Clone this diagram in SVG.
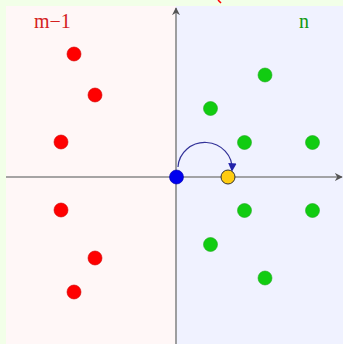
<svg xmlns="http://www.w3.org/2000/svg" width="343" height="344" viewBox="0 0 343 344">
<style>
.red{fill:#ff0000;stroke:#cc0000;stroke-width:0.6}
.green{fill:#11cc11;stroke:#22aa22;stroke-width:0.6}
.axis{stroke:#888888;stroke-width:1.6;fill:none}
.lbl{font-family:"Liberation Serif","DejaVu Serif",serif;font-size:20px}
</style>
<defs>
<marker id="ax" viewBox="0 0 10 10" refX="9" refY="5" markerWidth="5" markerHeight="5" orient="auto" markerUnits="strokeWidth">
<path d="M0,0 L10,5 L0,10 L3,5 Z" fill="#555555"/>
</marker>
<marker id="arc" viewBox="0 0 10 10" refX="8" refY="5" markerWidth="7" markerHeight="7" orient="auto" markerUnits="strokeWidth">
<path d="M0,0 L10,5 L0,10 Z" fill="#2222aa"/>
</marker>
</defs>
<rect x="0" y="0" width="343" height="344" fill="#f2ffe8"/>
<rect x="6" y="6" width="170" height="338" fill="#fff7f7"/>
<rect x="176" y="6" width="167" height="338" fill="#f0f2ff"/>
<path d="M218,0 L221,3" stroke="#ff0000" stroke-width="1.5"/>
<g id="connectors">
<line class="axis" x1="6" y1="177" x2="342" y2="177" marker-end="url(#ax)"/>
<line class="axis" x1="176" y1="344" x2="176" y2="8" marker-end="url(#ax)"/>
<path d="M178,167 A27,26 0 0 1 232,170" fill="none" stroke="#333399" stroke-width="1.2" marker-end="url(#arc)"/>
</g>
<g id="label-m1"><text class="lbl" x="34" y="28" fill="#d42020">m−1</text></g>
<g id="label-n"><text class="lbl" x="299" y="28" fill="#119911">n</text></g>
<g id="red-points">
<circle class="red" cx="74" cy="54" r="7"/>
<circle class="red" cx="95" cy="95" r="7"/>
<circle class="red" cx="61" cy="142" r="7"/>
<circle class="red" cx="61" cy="210" r="7"/>
<circle class="red" cx="95" cy="258" r="7"/>
<circle class="red" cx="74" cy="292" r="7"/>
</g>
<g id="green-points">
<circle class="green" cx="265" cy="75" r="7"/>
<circle class="green" cx="210.5" cy="108.5" r="7"/>
<circle class="green" cx="244.5" cy="142.5" r="7"/>
<circle class="green" cx="312.5" cy="142.5" r="7"/>
<circle class="green" cx="244.5" cy="210.5" r="7"/>
<circle class="green" cx="312.5" cy="210.5" r="7"/>
<circle class="green" cx="210.5" cy="244.5" r="7"/>
<circle class="green" cx="265" cy="278" r="7"/>
</g>
<g id="blue-point"><circle cx="176.5" cy="177" r="7" fill="#0000ee" stroke="#0000aa" stroke-width="0.6"/></g>
<g id="yellow-point"><circle cx="228" cy="177" r="7" fill="#ffcc11" stroke="#333333" stroke-width="1"/></g>
</svg>
